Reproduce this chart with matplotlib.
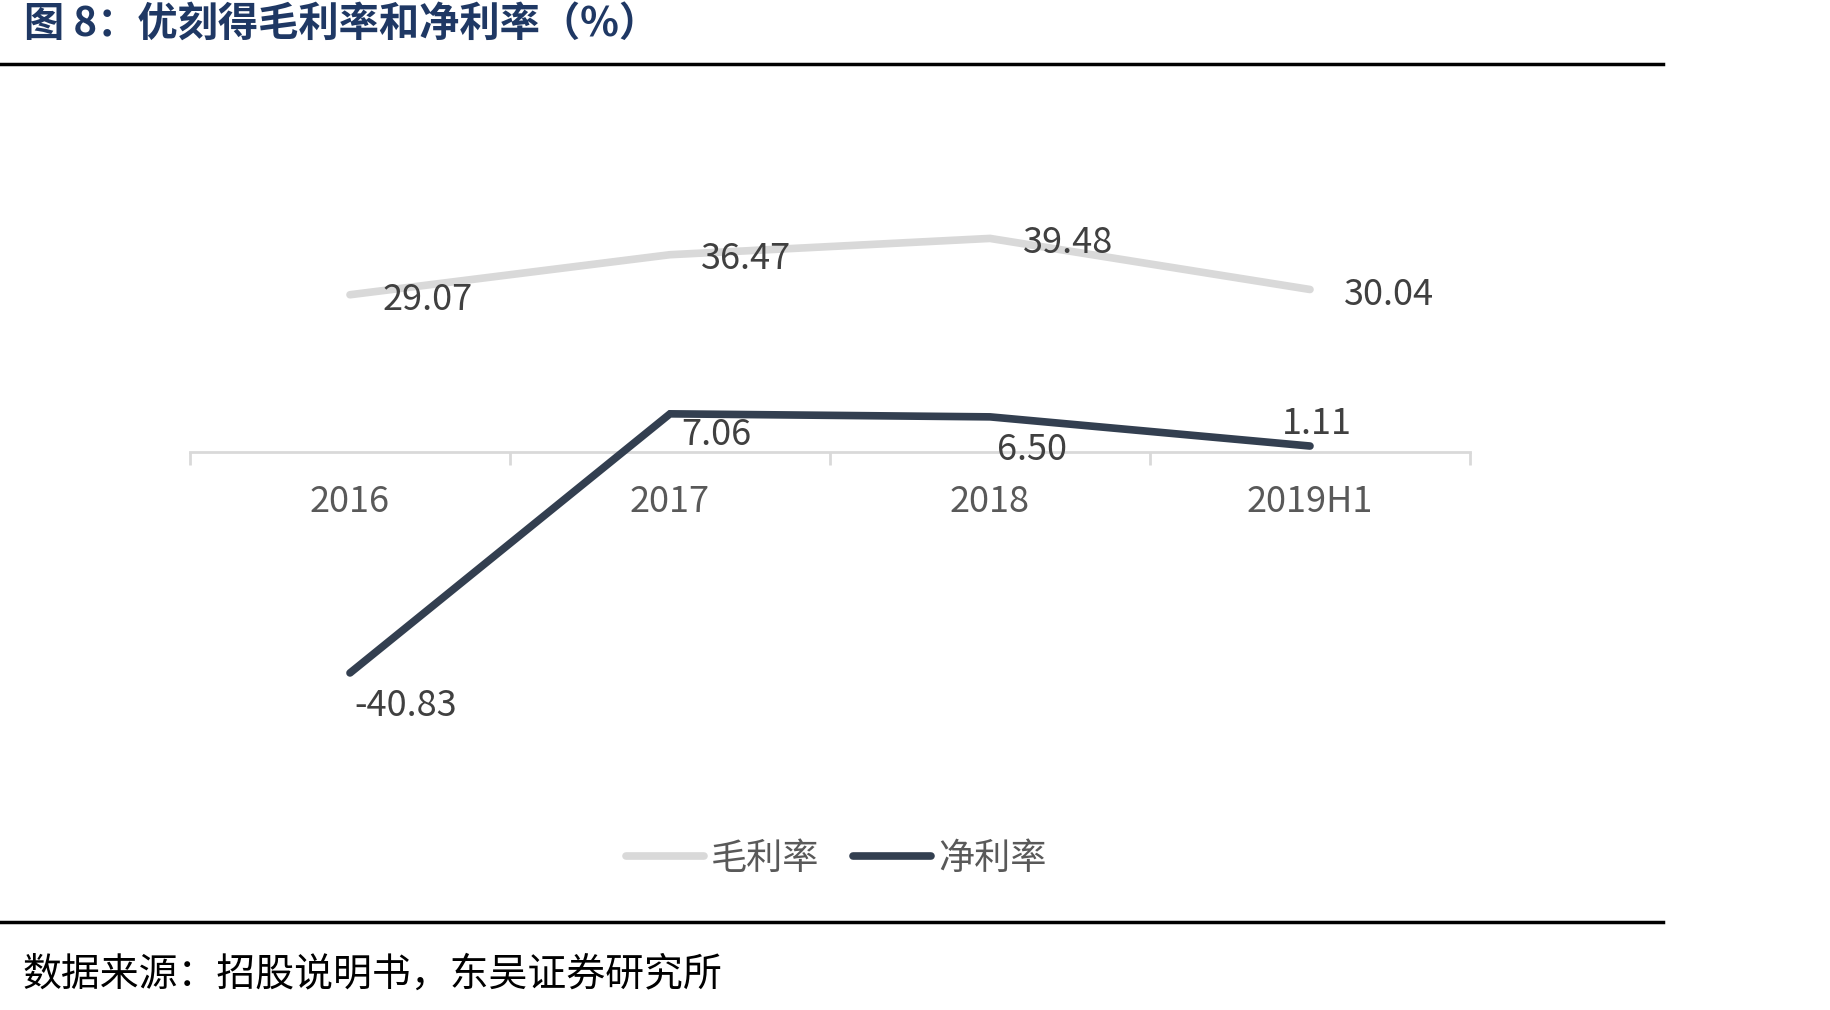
import matplotlib.pyplot as plt
from matplotlib.lines import Line2D
from matplotlib.ticker import FixedLocator

plt.rcParams['font.family'] = ['Noto Sans CJK SC', 'DejaVu Sans']

categories = ['2016', '2017', '2018', '2019H1']
gross_margin = [29.07, 36.47, 39.48, 30.04]
net_margin = [-40.83, 7.06, 6.50, 1.11]

# label offsets in points (dx, dy), picked by eye
gross_offsets = [(56, -4), (55, -3), (56, -3), (57, -4)]
net_offsets = [(40, -24), (33, -15), (30, -24), (5, 16)]

fig = plt.figure(figsize=(18.3, 10.1), dpi=100)
ax = fig.add_axes([190 / 1830, 0.2578, 1280 / 1830, 0.5625])

x = list(range(len(categories)))
ax.plot(x, gross_margin, color='#d9d9d9', lw=5.5, solid_capstyle='round',
        solid_joinstyle='miter', label='毛利率', zorder=2)
ax.plot(x, net_margin, color='#333f50', lw=5.5, solid_capstyle='round',
        solid_joinstyle='miter', label='净利率', zorder=3)

for i, v in enumerate(gross_margin):
    ax.annotate(f'{v:.2f}', (i, v), xytext=gross_offsets[i], textcoords='offset points',
                ha='center', va='center', fontsize=26, color='#404040')
for i, v in enumerate(net_margin):
    ax.annotate(f'{v:.2f}', (i, v), xytext=net_offsets[i], textcoords='offset points',
                ha='center', va='center', fontsize=26, color='#404040')

ax.set_xlim(-0.5, 3.5)
ax.set_ylim(-55, 50)
for s in ['top', 'right', 'left']:
    ax.spines[s].set_visible(False)
ax.spines['bottom'].set_position(('data', 0))
ax.spines['bottom'].set_color('#d9d9d9')
ax.spines['bottom'].set_linewidth(2)
ax.set_yticks([])
ax.set_xticks(x)
ax.set_xticklabels(categories, fontsize=26, color='#595959')
ax.tick_params(axis='x', which='major', length=0, pad=23)
ax.xaxis.set_minor_locator(FixedLocator([-0.5, 0.5, 1.5, 2.5, 3.5]))
ax.tick_params(axis='x', which='minor', length=9, width=2, color='#d9d9d9', direction='out')

fig.legend(loc='center', bbox_to_anchor=(0.457, 0.150), ncol=2, frameon=False,
           fontsize=26, handlelength=2.15, handletextpad=0.2, columnspacing=0.95,
           labelcolor='#595959')

fig.text(24 / 1830, 1 - 24 / 1010, '图 8：优刻得毛利率和净利率（%）', fontsize=29,
         fontweight='bold', color='#1f3864', ha='left', va='center')
fig.text(22 / 1830, 1 - 975 / 1010, '数据来源：招股说明书，东吴证券研究所', fontsize=28,
         color='black', ha='left', va='center')

fig.add_artist(Line2D([0, 1663 / 1830], [1 - 64 / 1010] * 2, color='black', lw=2.5))
fig.add_artist(Line2D([0, 1663 / 1830], [1 - 922 / 1010] * 2, color='black', lw=2.5))

fig.savefig('out.png', dpi=100, facecolor='white')
